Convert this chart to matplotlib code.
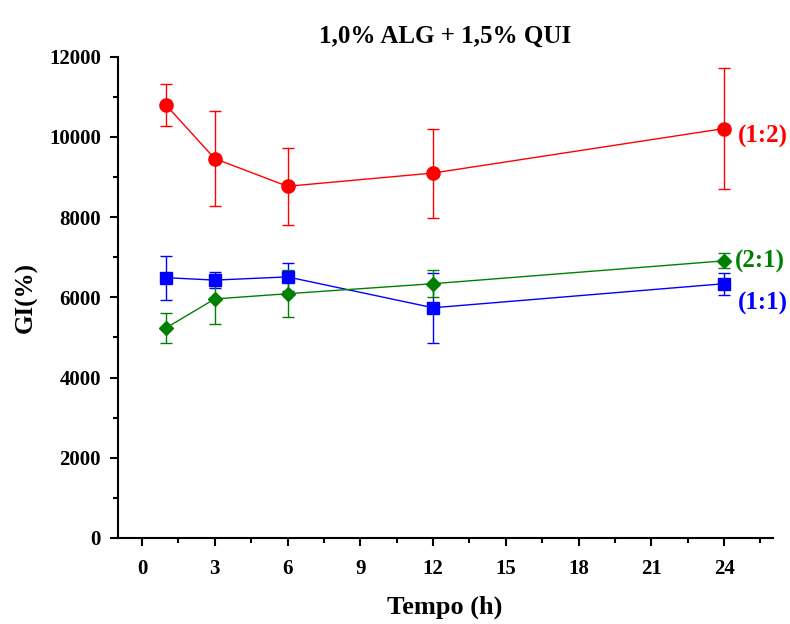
import numpy as np
import matplotlib.pyplot as plt
from matplotlib.ticker import MultipleLocator

plt.rcParams['font.family'] = ['Liberation Serif', 'DejaVu Serif']
plt.rcParams['font.weight'] = 'bold'

tempo = [1, 3, 6, 12, 24]

gi_12 = [10790, 9460, 8770, 9100, 10210]
err_12 = [520, 1190, 960, 1110, 1510]

gi_11 = [6490, 6430, 6510, 5740, 6340]
err_11 = [550, 190, 350, 870, 270]

gi_21 = [5240, 5960, 6090, 6340, 6910]
err_21 = [380, 630, 590, 340, 190]

fig = plt.figure(figsize=(7.9, 6.24), dpi=100)
ax = fig.add_axes([0.149, 0.138, 0.829, 0.771])

ax.errorbar(tempo, gi_12, yerr=err_12, color='#ff0000', marker='o', markersize=9.5,
            lw=1, capsize=4.5, elinewidth=1, capthick=1)
ax.errorbar(tempo, gi_11, yerr=err_11, color='#0000ff', marker='s', markersize=8.5,
            lw=1, capsize=4.5, elinewidth=1, capthick=1)
ax.errorbar(tempo, gi_21, yerr=err_21, color='#008000', marker='D', markersize=7.5,
            lw=1, capsize=4.5, elinewidth=1, capthick=1)

ax.text(24.55, 10010, '(1:2)', color='#ff0000', fontsize=18, fontweight='bold',
        va='center', ha='left', clip_on=False)
ax.text(24.45, 6890, '(2:1)', color='#008000', fontsize=18, fontweight='bold',
        va='center', ha='left', clip_on=False)
ax.text(24.55, 5840, '(1:1)', color='#0000ff', fontsize=18, fontweight='bold',
        va='center', ha='left', clip_on=False)

ax.set_xlim(-1, 26)
ax.set_ylim(0, 12000)
ax.xaxis.set_major_locator(MultipleLocator(3))
ax.xaxis.set_minor_locator(MultipleLocator(1.5))
ax.yaxis.set_major_locator(MultipleLocator(2000))
ax.yaxis.set_minor_locator(MultipleLocator(1000))
ax.set_xticks(range(0, 25, 3))

for s in ['top', 'right']:
    ax.spines[s].set_visible(False)
for s in ['left', 'bottom']:
    ax.spines[s].set_linewidth(1.5)
ax.tick_params(which='major', direction='out', length=6, width=1.5, labelsize=15)
ax.tick_params(axis='x', which='major', pad=9)
ax.tick_params(axis='y', which='major', pad=6)
ax.tick_params(which='minor', direction='out', length=3.5, width=1.5)
for lbl in ax.get_xticklabels() + ax.get_yticklabels():
    lbl.set_fontweight('bold')

ax.set_xlabel('Tempo (h)', fontsize=19, fontweight='bold', labelpad=12)
ax.set_ylabel('GI(%)', fontsize=18, fontweight='bold', labelpad=8)
ax.set_title('1,0% ALG + 1,5% QUI', fontsize=18, fontweight='bold', pad=10)

plt.savefig('out.png', dpi=100)
